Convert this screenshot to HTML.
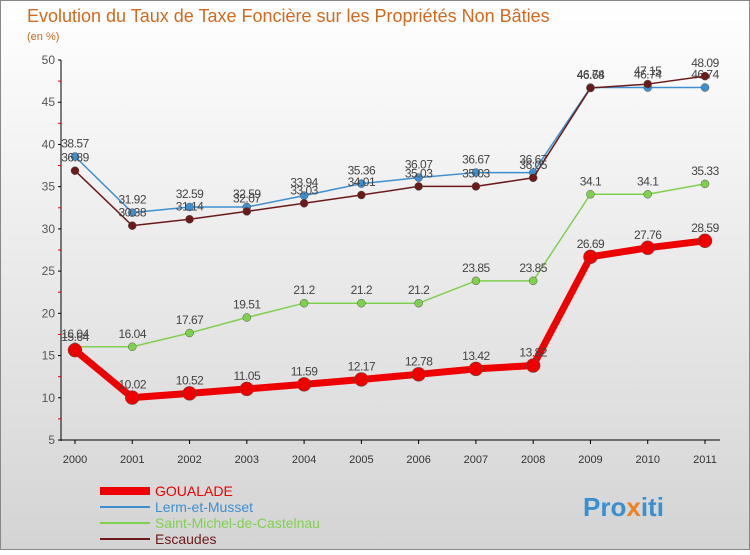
<!DOCTYPE html>
<html><head><meta charset="utf-8"><style>
body{margin:0;width:750px;height:550px;overflow:hidden;font-family:"Liberation Sans",sans-serif}
</style></head><body>
<svg width="750" height="550" xmlns="http://www.w3.org/2000/svg">
<defs><linearGradient id="bg" x1="0" y1="0" x2="0" y2="1"><stop offset="0" stop-color="#ffffff"/><stop offset="1" stop-color="#d4d4d4"/></linearGradient></defs>
<rect x="0.5" y="0.5" width="749" height="549" fill="url(#bg)" stroke="#888"/>
<text x="27" y="22" font-size="18" fill="#d2691e">Evolution du Taux de Taxe Foncière sur les Propriétés Non Bâties</text>
<text x="27" y="40" font-size="11" fill="#d2691e">(en %)</text>
<g id="axes"></g><g id="series"></g><g id="legend"></g>
<text x="583" y="516" font-size="26" font-weight="bold" fill="#3a8fd0">Pro<tspan fill="#f08020">x</tspan>iti</text>
</svg>
<script>
const years=[2000,2001,2002,2003,2004,2005,2006,2007,2008,2009,2010,2011];
const yTicks=[5,10,15,20,25,30,35,40,45,50];
const goualade=[15.64,10.02,10.52,11.05,11.59,12.17,12.78,13.42,13.82,26.69,27.76,28.59];
const lerm=[38.57,31.92,32.59,32.59,33.94,35.36,36.07,36.67,36.67,46.74,46.74,46.74];
const stMichel=[16.04,16.04,17.67,19.51,21.2,21.2,21.2,23.85,23.85,34.1,34.1,35.33];
const escaudes=[36.89,30.38,31.14,32.07,33.03,34.01,35.03,35.03,36.05,46.68,47.15,48.09];
const NS="http://www.w3.org/2000/svg";
const xS=i=>75+i*(705-75)/(years.length-1);
const yS=v=>440-(v-5)*(380/45);
function mk(t,a,p){const e=document.createElementNS(NS,t);for(const k in a)e.setAttribute(k,a[k]);p.appendChild(e);return e;}
const ax=document.getElementById('axes');
const yl=mk('line',{x1:61,y1:60,x2:61,y2:441,stroke:'#000'},ax);


const xl=mk('line',{x1:61,y1:440,x2:720,y2:440,stroke:'#000'},ax);


yTicks.forEach(v=>{
 mk('line',{x1:58,y1:yS(v),x2:61,y2:yS(v),stroke:'#000'},ax);
 if(v<50) mk('line',{x1:58,y1:yS(v+2.5),x2:61,y2:yS(v+2.5),stroke:'#d00'},ax);
 const t=mk('text',{x:55,y:yS(v)+4,'font-size':12,fill:'#555','text-anchor':'end'},ax);t.textContent=v;
 
 
});
years.forEach((y,i)=>{
 mk('line',{x1:xS(i),y1:440,x2:xS(i),y2:444,stroke:'#000'},ax);
 const t=mk('text',{x:xS(i),y:463,'font-size':11,fill:'#333','text-anchor':'middle'},ax);t.textContent=y;
 
 
});
const sg=document.getElementById('series');
function series(d,color,w,r,name){
 const g=mk('g',{},sg);
 
 
 mk('polyline',{points:d.map((v,i)=>xS(i)+','+yS(v)).join(' '),fill:'none',stroke:color,'stroke-width':w,'stroke-linejoin':'round'},g);
 d.forEach((v,i)=>{
  const c=mk('circle',{cx:xS(i),cy:yS(v),r:r,fill:color,stroke:'#555','stroke-width':0.5},g);
  
  
  const t=mk('text',{x:xS(i),y:yS(v)-9,'font-size':12,fill:'#444','text-anchor':'middle','letter-spacing':'-0.5'},g);t.textContent=v;
  
  
 });
}
series(lerm,'#3e8fd0',1.5,4,'lerm');
series(escaudes,'#6b1a1a',1.5,4,'escaudes');
series(stMichel,'#80d050',1.5,4,'st-michel');
series(goualade,'#ee0000',7,7,'goualade');
const lg=document.getElementById('legend');
[['GOUALADE','#ee0000',8],['Lerm-et-Musset','#3e8fd0',2],['Saint-Michel-de-Castelnau','#80d050',2],['Escaudes','#6b1a1a',2]].forEach((e,i)=>{
 const y=491+i*16;
 const g=mk('g',{},lg);
 
 
 mk('line',{x1:100,y1:y,x2:150,y2:y,stroke:e[1],'stroke-width':e[2]},g);
 const t=mk('text',{x:155,y:y+5,'font-size':14,fill:e[1]},g);t.textContent=e[0];
});
</script>
</body></html>
